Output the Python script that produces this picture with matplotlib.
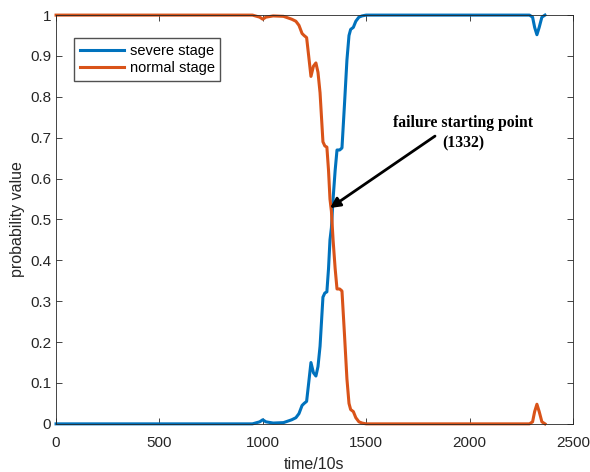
import matplotlib.pyplot as plt

# time axis (units of 10 s) and stage probabilities
time = [0, 950, 985, 1000, 1015, 1050, 1100, 1140, 1160, 1175, 1190, 1200,
        1212, 1222, 1233, 1245, 1257, 1267, 1277, 1291, 1300, 1310, 1318,
        1325, 1332, 1340, 1350, 1359, 1372, 1383, 1395, 1407, 1417, 1425,
        1438, 1450, 1465, 1480, 1500, 2290, 2305, 2315, 2326, 2337, 2350,
        2365]

normal_stage = [1, 1, 0.995, 0.99, 0.995, 0.998, 0.997, 0.99, 0.985, 0.975,
                0.955, 0.95, 0.945, 0.9, 0.85, 0.875, 0.883, 0.86, 0.81,
                0.69, 0.68, 0.677, 0.62, 0.55, 0.52, 0.45, 0.38, 0.33, 0.33,
                0.325, 0.22, 0.11, 0.05, 0.035, 0.03, 0.015, 0.005, 0.002,
                0, 0, 0.005, 0.03, 0.048, 0.03, 0.005, 0]

severe_stage = [0, 0, 0.005, 0.01, 0.005, 0.002, 0.003, 0.01, 0.015, 0.025,
                0.045, 0.05, 0.055, 0.1, 0.15, 0.125, 0.117, 0.14, 0.19,
                0.31, 0.32, 0.323, 0.38, 0.45, 0.48, 0.55, 0.62, 0.67, 0.67,
                0.675, 0.78, 0.89, 0.95, 0.965, 0.97, 0.985, 0.995, 0.998,
                1, 1, 0.995, 0.97, 0.952, 0.97, 0.995, 1]

# failure point the arrow points at, and where the arrow starts
fail_xy = (1325, 0.528)
arrow_tail = (1833, 0.704)
label_xy = (1968, 0.712)

blue = "#0072BD"
orange = "#D95319"

plt.rcParams["font.family"] = ["Liberation Sans", "DejaVu Sans"]

fig = plt.figure(figsize=(5.9, 4.72), dpi=100)
ax = fig.add_axes([0.095, 0.102, 0.876, 0.866])

ax.plot(time, severe_stage, color=blue, linewidth=2.2,
        label="severe stage", clip_on=False)
ax.plot(time, normal_stage, color=orange, linewidth=2.2,
        label="normal stage", clip_on=False)

ax.set_xlim(0, 2500)
ax.set_ylim(0, 1)
ax.set_xticks([0, 500, 1000, 1500, 2000, 2500])
ax.set_yticks([i / 10 for i in range(11)])
ax.set_yticklabels(["0", "0.1", "0.2", "0.3", "0.4", "0.5",
                    "0.6", "0.7", "0.8", "0.9", "1"])

ax.tick_params(direction="in", top=True, right=True, labelsize=11,
               colors="#262626", length=4, width=0.6)
ax.tick_params(axis="x", pad=9)
for s in ax.spines.values():
    s.set_color("#262626")
    s.set_linewidth(0.6)

ax.set_xlabel("time/10s", fontsize=11.5, color="#262626", labelpad=5)
ax.set_ylabel("probability value", fontsize=11.5, color="#262626",
              labelpad=4)

ax.legend(loc="upper left", bbox_to_anchor=(0.035, 0.944), fontsize=10.5,
          handlelength=3.0, frameon=True, fancybox=False,
          edgecolor="#262626", borderpad=0.4, labelspacing=0.2,
          handletextpad=0.4, borderaxespad=0)

ax.text(label_xy[0], label_xy[1], "failure starting point\n(1332)",
        ha="center", va="center", fontsize=11.3, fontweight="bold",
        family="Liberation Serif", linespacing=1.35)

ax.annotate("", xy=fail_xy, xytext=arrow_tail,
            arrowprops=dict(arrowstyle="-|>", color="black", lw=2,
                            mutation_scale=15, shrinkA=0, shrinkB=0))

plt.savefig("out.png", dpi=100)
plt.close()
